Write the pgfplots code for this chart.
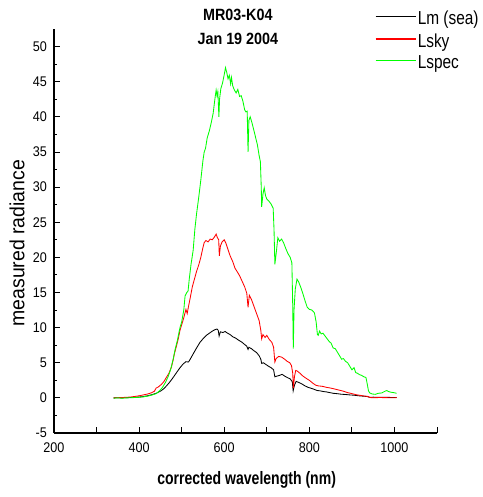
\documentclass[border=0pt]{standalone}
\usepackage{fontspec}
\setmainfont{Liberation Sans}
\newfontfamily\tickfont[FakeStretch=0.9]{Liberation Sans}
\newfontfamily\titlefont[FakeStretch=0.88]{Liberation Sans}
\newfontfamily\xlabfont[FakeStretch=0.78]{Liberation Sans}
\newfontfamily\ylabfont[FakeStretch=0.95]{Liberation Sans}
\newfontfamily\legfont[FakeStretch=0.82]{Liberation Sans}
\usepackage{pgfplots}
\pgfplotsset{compat=1.18}
\begin{document}
\begin{tikzpicture}
\useasboundingbox (-54pt,-64pt) rectangle (428pt,433pt);
\begin{axis}[
  scale only axis, width=383pt, height=404pt,
  xmin=200, xmax=1100, ymin=-5, ymax=52.5,
  axis x line*=bottom, axis y line*=left,
  axis line style={line width=1.2pt},
  tick align=inside,
  major tick length=6pt, minor tick length=3pt,
  every tick/.style={black, line width=0.9pt},
  xtick={200,300,...,1100},
  xticklabels={200,,400,,600,,800,,1000,},
  ytick={-5,0,...,50},
  minor y tick num=1,
  /pgf/number format/assume math mode=true,
  tick label style={font=\tickfont\fontsize{14}{14}\selectfont, inner sep=0pt},
  xticklabel style={yshift=-10pt},
  yticklabel style={xshift=-7pt},
  clip=false,
  legend cell align=left,
  legend image code/.code={\draw[#1, line width=1.1pt] (0pt,0.2em) -- (40pt,0.2em);},
  legend style={at={(axis description cs:0.838,1.048)}, anchor=north west,
    draw=none, fill=none, inner sep=0pt, row sep=4pt,
    font=\legfont\fontsize{18.8}{18.8}\selectfont,
    nodes={inner sep=1.5pt}},
]
\addplot[black, line width=0.85pt] coordinates {
(340,0.0)(350,0.02)(360,0.0)(370,0.03)(380,0.05)(390,0.08)(400,0.12)(410,0.18)
(420,0.3)(430,0.45)(440,0.65)(450,0.95)(458,1.3)(465,1.75)(472,2.25)(480,2.9)
(488,3.6)(495,4.2)(503,4.8)(510,5.15)(516,5.1)(520,5.5)(527,6.25)(535,7.1)
(543,7.9)(550,8.4)(558,8.9)(565,9.2)(572,9.5)(578,9.7)(583,9.8)(586,9.6)
(588,8.8)(591,9.4)(597,9.3)(602,9.45)(608,9.2)(614,9.0)(620,8.7)(627,8.5)
(634,8.2)(641,7.95)(648,7.6)(653,7.35)(656,6.9)(658,7.2)(664,7.0)(670,6.7)
(676,6.45)(682,6.0)(686,5.5)(688,4.9)(692,5.0)(698,4.75)(704,4.5)(710,4.3)
(716,4.0)(719,3.0)(724,3.1)(730,3.2)(736,3.35)(742,3.1)(748,2.9)(755,2.7)
(760,2.3)(762,1.0)(765,1.8)(769,2.35)(775,2.2)(782,2.0)(790,1.7)(797,1.5)
(805,1.35)(812,1.2)(818,1.05)(825,1.0)(833,0.9)(840,0.85)(848,0.75)(856,0.65)
(865,0.6)(875,0.52)(885,0.48)(895,0.42)(905,0.38)(915,0.3)(925,0.25)(935,0.2)
(942,0.08)(950,0.1)(965,0.08)(980,0.07)(995,0.06)(1005,0.05)
};
\addlegendentry{Lm (sea)}
\addplot[red, line width=0.85pt] coordinates {
(340,0.0)(350,0.02)(360,0.05)(370,0.08)(380,0.12)(390,0.2)(400,0.3)(410,0.42)
(420,0.55)(430,0.75)(436,0.95)(440,1.4)(445,1.55)(452,1.9)(458,2.3)(464,2.9)
(470,3.5)(476,4.4)(480,5.4)(483,6.3)(487,7.2)(492,8.4)(496,9.6)(500,10.4)
(505,11.4)(510,12.6)(513,12.0)(516,13.0)(520,14.2)(525,15.8)(530,16.9)(535,18.0)
(540,18.9)(545,20.0)(550,21.4)(553,22.1)(557,22.4)(562,22.2)(567,22.6)(572,22.5)
(577,22.9)(581,23.3)(584,22.8)(587,22.5)(588.5,20.2)(591,21.6)(595,22.2)(600,22.5)
(604,22.0)(609,21.1)(614,20.2)(620,19.4)(625,18.5)(630,18.0)(636,17.4)(642,16.6)
(648,15.8)(653,14.9)(656,12.9)(659,14.6)(664,14.0)(670,13.0)(676,12.0)(682,11.0)
(686,9.6)(688,8.4)(691,9.0)(696,8.6)(700,8.9)(706,8.3)(712,7.9)(716,7.2)
(719,5.1)(722,5.6)(728,5.9)(735,5.8)(742,5.5)(748,5.2)(754,5.0)(758,4.6)
(761,3.5)(762.5,1.4)(765,3.0)(768,3.9)(772,3.8)(778,3.5)(785,3.1)(792,2.8)
(800,2.5)(808,2.1)(815,1.8)(822,1.7)(830,1.65)(840,1.5)(850,1.4)(860,1.25)
(870,1.1)(880,0.95)(890,0.75)(900,0.6)(910,0.45)(920,0.35)(930,0.25)(938,0.2)
(942,0.05)(950,0.02)(965,0.05)(980,0.03)(995,0.02)(1005,0.03)
};
\addlegendentry{Lsky}
\addplot[green, line width=0.85pt] coordinates {
(340,-0.05)(350,0.0)(360,-0.05)(370,0.0)(380,0.02)(390,0.05)(400,0.08)(410,0.15)
(420,0.25)(430,0.4)(440,0.6)(448,1.0)(455,1.5)(462,2.2)(468,3.0)(474,4.0)
(480,5.5)(485,7.0)(490,8.2)(496,10.0)(500,10.8)(505,12.5)(508,14.5)(512,15.0)
(515,15.2)(518,17.0)(522,19.0)(527,21.0)(531,24.0)(535,26.2)(540,28.5)(545,31.0)
(550,33.8)(553,35.0)(556,35.5)(560,37.0)(565,38.0)(570,39.3)(574,40.5)(578,42.5)
(581,43.8)(583,43.0)(585,43.6)(587.5,40.0)(589,42.5)(592,44.0)(596,44.8)(600,46.0)
(603,47.0)(606,46.3)(609,45.4)(612,45.9)(615,44.7)(617,45.6)(620,44.4)(624,43.8)
(628,43.4)(632,43.9)(636,42.9)(640,43.0)(644,42.2)(648,41.0)(651,40.7)(654,40.8)
(656,35.0)(658,39.5)(661,40.0)(665,39.2)(670,38.0)(674,37.0)(678,36.0)(682,34.5)
(685,33.6)(687,30.0)(688,27.2)(691,29.0)(694,29.9)(697,28.8)(700,28.3)(705,28.0)
(710,27.6)(715,27.0)(717,24.0)(719,19.0)(722,20.5)(726,22.8)(730,22.3)(735,22.6)
(740,22.0)(745,21.2)(750,20.5)(755,20.0)(759,19.2)(761,13.0)(762.3,7.0)(764,12.5)
(767,15.5)(771,16.9)(775,16.5)(780,15.7)(785,14.8)(790,13.8)(795,12.9)(800,12.6)
(806,12.5)(812,12.1)(816,10.8)(819,9.0)(821,8.9)(824,9.5)(828,9.1)(832,9.2)
(837,8.8)(842,8.4)(847,8.0)(851,7.8)(856,7.1)(861,7.0)(866,6.5)(871,6.0)
(876,5.5)(880,5.6)(885,5.2)(890,5.0)(895,4.5)(900,4.0)(905,4.3)(909,3.6)
(913,3.5)(918,3.3)(923,3.2)(928,3.0)(933,2.9)(936,2.0)(939,1.0)(942,0.7)
(948,0.55)(955,0.5)(962,0.65)(970,0.7)(978,0.95)(982,1.05)(986,0.9)(992,0.8)
(998,0.75)(1005,0.65)
};
\addlegendentry{Lspec}
\node[font=\titlefont\bfseries\fontsize{16.3}{16.3}\selectfont, anchor=center]
  at (axis description cs:0.480,1.035) {MR03-K04};
\node[font=\titlefont\bfseries\fontsize{16.3}{16.3}\selectfont, anchor=center]
  at (axis description cs:0.480,0.975) {Jan 19 2004};
\node[font=\xlabfont\bfseries\fontsize{18}{18}\selectfont, anchor=center]
  at (axis description cs:0.503,-0.116) {corrected wavelength (nm)};
\node[font=\ylabfont\fontsize{20.5}{20.5}\selectfont, anchor=center, rotate=90]
  at (axis description cs:-0.0966,0.47) {measured radiance};
\end{axis}
\end{tikzpicture}
\end{document}
